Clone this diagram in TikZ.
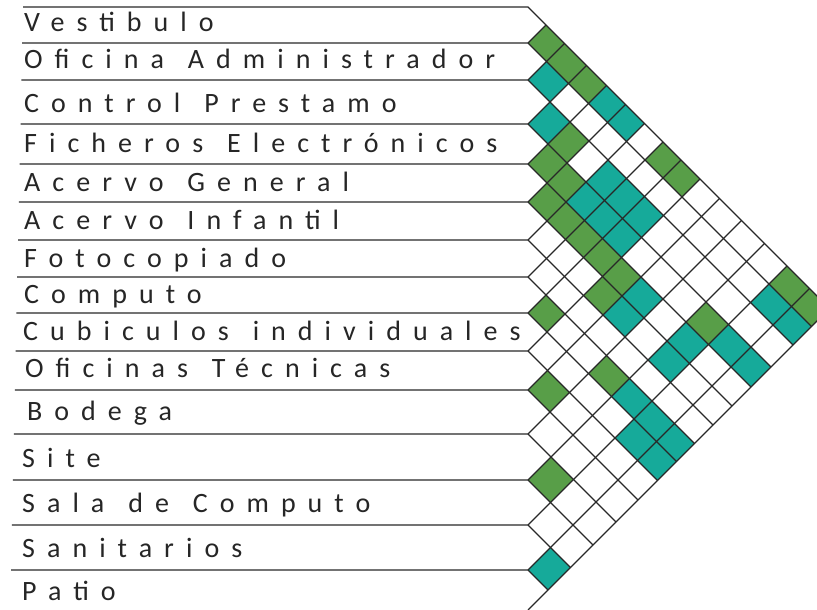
\documentclass[tikz,border=0pt]{standalone}
\usepackage{fontspec}
\setmainfont{Carlito}[LetterSpace=43, WordSpace=1.3]
\usetikzlibrary{positioning}

\definecolor{verde}{RGB}{88,158,72}
\definecolor{turquesa}{RGB}{22,170,154}
\definecolor{linea}{RGB}{40,40,40}

% limites de las filas (de arriba a abajo)
\def\ys{{7,43,80,124,164,202,240,277,313,351,390,434,480,525,570,610}}
\def\xl{528}

% celda de la matriz: fila i, fila j, color
\newcommand{\celda}[3]{%
  \pgfmathsetmacro{\ya}{\ys[#1]}
  \pgfmathsetmacro{\yb}{\ys[#1+1]}
  \pgfmathsetmacro{\yc}{\ys[#2]}
  \pgfmathsetmacro{\yd}{\ys[#2+1]}
  \fill[#3] ({\xl+(\yc-\yb)/2},{(\yb+\yc)/2}) -- ({\xl+(\yc-\ya)/2},{(\ya+\yc)/2})
    -- ({\xl+(\yd-\ya)/2},{(\ya+\yd)/2}) -- ({\xl+(\yd-\yb)/2},{(\yb+\yd)/2}) -- cycle;
}

\begin{document}
\begin{tikzpicture}[
  x=1pt, y=-1pt,
  lbl/.style={anchor=base west, inner sep=0pt, text=black!85, font=\fontsize{28}{30}\selectfont},
  reja/.style={draw=linea, line width=1.1pt}
]
  \useasboundingbox (0,0) rectangle (817,610);
  \clip (0,0) rectangle (817,610);

  % relaciones
  \foreach \i/\j in {0/1,0/2,0/3,0/7,0/8,0/13,0/14,2/4,3/4,3/5,3/12,4/5,4/6,4/7,4/8,4/9,5/9,7/8,7/11,9/10,11/12}
    {\celda{\i}{\j}{verde}}
  \foreach \i/\j in {0/4,0/5,1/2,1/13,1/14,2/3,2/6,2/7,2/8,3/6,3/7,3/8,3/13,3/14,4/10,4/12,5/10,5/12,7/12,7/13,7/14,8/13,8/14,13/14}
    {\celda{\i}{\j}{turquesa}}

  % lineas
  \foreach \m in {0,...,14} {
    \pgfmathsetmacro{\y}{\ys[\m]}
    \draw[reja] ({23-0.0213*(\y-7)},\y) -- (\xl,\y) -- ({\xl+(610-\y)/2},{(610+\y)/2});
  }
  \foreach \m in {1,...,15} {
    \pgfmathsetmacro{\y}{\ys[\m]}
    \draw[reja] (\xl,\y) -- ({\xl+(\y-7)/2},{(\y+7)/2});
  }

  \node[lbl] (vestibulo) at (24,32) {Vestibulo};
  \node[lbl] (oficina) at (24,69) {Oficina Administrador};
  \node[lbl] (control) at (24,112) {Control Prestamo};
  \node[lbl] (ficheros) at (24,152) {Ficheros Electrónicos};
  \node[lbl] (acervog) at (24,191) {Acervo General};
  \node[lbl] (acervoi) at (24,229) {Acervo Infantil};
  \node[lbl] (fotocopiado) at (24,267) {Fotocopiado};
  \node[lbl] (computo) at (24,303) {Computo};
  \node[lbl] (cubiculos) at (23,340) {Cubiculos individuales};
  \node[lbl] (tecnicas) at (25,377) {Oficinas Técnicas};
  \node[lbl] (bodega) at (27,420) {Bodega};
  \node[lbl] (site) at (22,467) {Site};
  \node[lbl] (sala) at (22,512) {Sala de Computo};
  \node[lbl] (sanitarios) at (22,557) {Sanitarios};
  \node[lbl] (patio) at (22,600) {Patio};
\end{tikzpicture}
\end{document}
